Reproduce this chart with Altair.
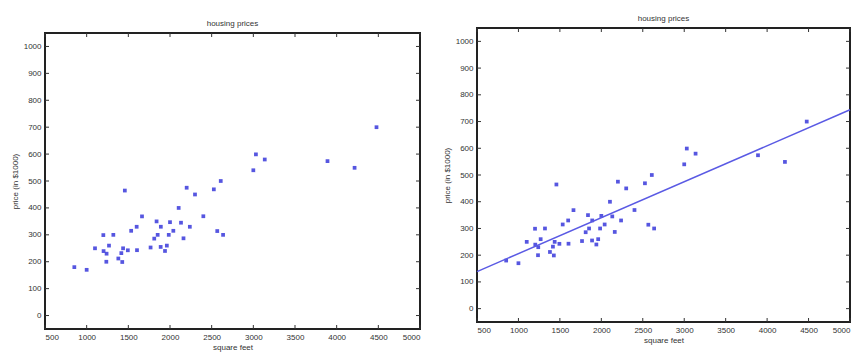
import altair as alt
import pandas as pd

# square feet and price (in $1000)
sqft = [2104, 1600, 2400, 1416, 3000, 1985, 1534, 1427, 1380, 1494, 1940, 2000,
        1890, 4478, 1268, 2300, 1320, 1236, 2609, 3031, 1767, 1888, 1604, 1962,
        3890, 1100, 1458, 2526, 2200, 2637, 1839, 1000, 2040, 3137, 1811, 1437,
        1239, 2132, 4215, 2162, 1664, 2238, 2567, 1200, 852, 1852, 1203]
price = [399.9, 329.9, 369.0, 232.0, 539.9, 299.9, 314.9, 199.0, 212.0, 242.5, 240.0, 347.0,
         330.0, 699.9, 259.9, 449.9, 299.9, 199.9, 500.0, 599.0, 252.9, 255.0, 242.9, 259.9,
         573.9, 249.9, 464.5, 469.0, 475.0, 299.9, 349.9, 169.9, 314.9, 579.9, 285.9, 249.9,
         229.9, 345.0, 549.0, 287.0, 368.5, 329.9, 314.0, 299.0, 179.9, 299.9, 239.5]
x_ticks = [500, 1000, 1500, 2000, 2500, 3000, 3500, 4000, 4500, 5000]
y_ticks = [0, 100, 200, 300, 400, 500, 600, 700, 800, 900, 1000]

df = pd.DataFrame({"sqft": sqft, "price": price})
xt = pd.DataFrame({"sqft": x_ticks})
yt = pd.DataFrame({"price": y_ticks})

PT = "#4444dd"
LINE = "#5a5ae4"
FONT = "Liberation Sans"


def panel(w, h, with_line, xtitle):
    xs = alt.Scale(domain=[500, 5000], nice=False, zero=False)
    ys = alt.Scale(domain=[-50, 1050], nice=False, zero=False)
    xax = alt.Axis(values=x_ticks, title=xtitle, format="d", grid=False,
                   ticks=False, domain=False, labelPadding=4, titlePadding=2,
                   titleLineHeight=12)
    yax = alt.Axis(values=y_ticks, title="price (in $1000)", format="d", grid=False,
                   ticks=False, domain=False, labelPadding=4, titlePadding=4)
    X = alt.X("sqft:Q", scale=xs, axis=xax)
    Y = alt.Y("price:Q", scale=ys, axis=yax)
    pts = alt.Chart(df).mark_point(
        shape="square", size=14, filled=True, color=PT, opacity=0.9).encode(x=X, y=Y)
    tk = dict(color="#333", strokeWidth=1)
    tb = alt.Chart(xt).mark_rule(**tk).encode(x=X, y=alt.value(h), y2=alt.value(h - 4))
    tt = alt.Chart(xt).mark_rule(**tk).encode(x=X, y=alt.value(0), y2=alt.value(4))
    tl = alt.Chart(yt).mark_rule(**tk).encode(y=Y, x=alt.value(0), x2=alt.value(4))
    tr = alt.Chart(yt).mark_rule(**tk).encode(y=Y, x=alt.value(w), x2=alt.value(w - 4))
    layers = [pts, tb, tt, tl, tr]
    if with_line:
        line = alt.Chart(df).transform_regression(
            "sqft", "price", extent=[500, 5000]).mark_line(
            color=LINE, strokeWidth=1.5).encode(x=X, y=Y)
        layers.append(line)
    return alt.layer(*layers).properties(
        width=w, height=h, title=alt.TitleParams(text="housing prices", offset=5))


left = panel(375, 296, False, "square feet")
right = panel(373, 294, True, ["square feet", "\u00a0"])

chart = alt.hconcat(left, right, spacing=20, center=True).properties(
    padding={"left": 10, "top": 13, "right": 5, "bottom": 5},
    background="white",
).configure_view(
    stroke="#222", strokeWidth=2
).configure_axis(
    labelFont=FONT, titleFont=FONT, labelFontSize=8, titleFontSize=8,
    labelColor="#333", titleColor="#333", titleFontWeight="normal"
).configure_title(
    font=FONT, fontSize=8, fontWeight="normal", color="#333"
)

chart.save("out.html", embed_options={"renderer": "svg", "actions": False})
